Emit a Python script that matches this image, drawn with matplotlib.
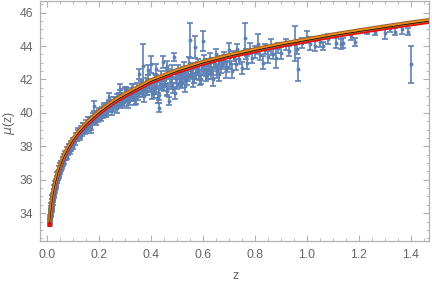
import numpy as np
import matplotlib
matplotlib.use("Agg")
import matplotlib.pyplot as plt

BLUE = "#5E81B5"
RED = "#FF0000"
ORANGE = "#F08C1A"
BROWN = "#9C6630"
FRAME = "#B0B0B0"
TEXT = "#666666"

# ── supernova data (z, mu, error) ───────────────────────────────────────────
z_low = [0.011, 0.012, 0.013, 0.014, 0.015, 0.015, 0.016, 0.017, 0.018, 0.019,
         0.020, 0.021, 0.022, 0.023, 0.024, 0.025, 0.026, 0.027, 0.028, 0.029,
         0.030, 0.031, 0.032, 0.034, 0.035, 0.037, 0.038, 0.040, 0.041, 0.043,
         0.045, 0.047, 0.049, 0.051, 0.053, 0.055, 0.057, 0.060, 0.062, 0.065,
         0.068, 0.071, 0.074, 0.078, 0.081, 0.085, 0.088, 0.092, 0.096, 0.100,
         0.013, 0.016, 0.018, 0.020, 0.022, 0.024, 0.026, 0.028, 0.030, 0.033,
         0.036, 0.039, 0.042, 0.046, 0.050, 0.054, 0.058, 0.063, 0.067, 0.072,
         0.076, 0.082, 0.087, 0.093, 0.098]
mu_low = [33.45, 33.70, 33.60, 34.05, 33.95, 34.30, 34.10, 34.45, 34.35, 34.70,
          34.55, 34.95, 34.80, 35.10, 34.95, 35.30, 35.15, 35.55, 35.35, 35.60,
          35.45, 35.80, 35.65, 35.95, 35.80, 36.15, 35.95, 36.35, 36.10, 36.45,
          36.30, 36.70, 36.55, 36.90, 36.70, 37.05, 36.85, 37.25, 37.05, 37.45,
          37.30, 37.65, 37.45, 37.85, 37.65, 38.05, 37.85, 38.20, 38.00, 38.40,
          33.50, 33.95, 34.20, 34.45, 34.65, 34.85, 35.00, 35.15, 35.30, 35.55,
          35.70, 35.90, 36.10, 36.25, 36.45, 36.65, 36.80, 36.95, 37.10, 37.30,
          37.40, 37.60, 37.70, 37.85, 38.00]
err_low = [0.20, 0.18, 0.17, 0.16, 0.15, 0.16, 0.15, 0.14, 0.14, 0.13,
           0.13, 0.13, 0.12, 0.12, 0.12, 0.12, 0.11, 0.11, 0.11, 0.11,
           0.11, 0.10, 0.10, 0.10, 0.10, 0.10, 0.10, 0.10, 0.10, 0.10,
           0.10, 0.10, 0.10, 0.10, 0.10, 0.10, 0.10, 0.10, 0.10, 0.10,
           0.10, 0.10, 0.10, 0.10, 0.10, 0.10, 0.10, 0.10, 0.11, 0.11,
           0.15, 0.14, 0.14, 0.13, 0.13, 0.13, 0.12, 0.12, 0.12, 0.12,
           0.12, 0.12, 0.12, 0.12, 0.13, 0.13, 0.13, 0.13, 0.14, 0.14,
           0.14, 0.14, 0.15, 0.15, 0.15]

z_mid = [0.105, 0.110, 0.115, 0.120, 0.125, 0.130, 0.135, 0.140, 0.145, 0.150,
         0.155, 0.160, 0.165, 0.170, 0.175, 0.180, 0.185, 0.190, 0.195, 0.200,
         0.205, 0.210, 0.215, 0.220, 0.225, 0.230, 0.235, 0.240, 0.245, 0.250,
         0.255, 0.260, 0.265, 0.270, 0.275, 0.280, 0.285, 0.290, 0.295, 0.300,
         0.240, 0.280,
         0.108, 0.118, 0.128, 0.138, 0.148, 0.158, 0.168, 0.178, 0.188, 0.198,
         0.208, 0.218, 0.228, 0.238, 0.248, 0.258, 0.268, 0.278, 0.288, 0.298]
mu_mid = [38.35, 38.60, 38.45, 38.80, 38.60, 39.00, 38.80, 39.20, 38.95, 39.35,
          39.10, 39.50, 39.30, 39.10, 39.60, 40.42, 39.55, 39.85, 39.65, 40.00,
          39.80, 40.15, 39.90, 40.25, 40.00, 40.40, 40.10, 40.55, 40.25, 40.60,
          40.35, 40.75, 40.45, 40.90, 40.55, 41.10, 40.70, 40.95, 40.65, 41.20,
          40.95, 41.45,
          38.30, 38.85, 38.70, 39.15, 39.00, 39.55, 39.25, 39.80, 39.50, 40.10,
          39.75, 40.30, 40.00, 40.50, 40.20, 40.70, 40.30, 40.95, 40.60, 41.30]
err_mid = [0.15, 0.20, 0.15, 0.18, 0.20, 0.20, 0.20, 0.20, 0.22, 0.20,
           0.20, 0.25, 0.22, 0.30, 0.20, 0.28, 0.20, 0.20, 0.22, 0.20,
           0.25, 0.20, 0.22, 0.20, 0.25, 0.20, 0.22, 0.25, 0.20, 0.20,
           0.25, 0.20, 0.22, 0.25, 0.20, 0.25, 0.22, 0.20, 0.25, 0.20,
           0.25, 0.25,
           0.20, 0.22, 0.20, 0.25, 0.20, 0.22, 0.25, 0.20, 0.25, 0.22,
           0.25, 0.30, 0.25, 0.22, 0.30, 0.25, 0.28, 0.25, 0.30, 0.25]

z_far = [0.305, 0.310, 0.315, 0.320, 0.325, 0.330, 0.335, 0.340, 0.345, 0.350,
         0.355, 0.360, 0.365, 0.370, 0.375, 0.380, 0.385, 0.390, 0.395, 0.400,
         0.405, 0.410, 0.415, 0.420, 0.425, 0.430, 0.435, 0.440, 0.446, 0.450,
         0.455, 0.460, 0.465, 0.470, 0.475, 0.480, 0.485, 0.490, 0.495, 0.500,
         0.355, 0.390, 0.420, 0.460,
         0.302, 0.312, 0.322, 0.332, 0.342, 0.352, 0.362, 0.372, 0.382, 0.392,
         0.402, 0.412, 0.422, 0.432, 0.442, 0.452, 0.462, 0.472, 0.482, 0.492]
mu_far = [40.85, 41.25, 40.70, 41.10, 41.50, 40.95, 41.30, 40.80, 41.55, 41.05,
          41.40, 41.70, 41.20, 42.80, 41.50, 41.80, 41.30, 41.95, 41.45, 42.90,
          41.70, 41.20, 42.05, 41.55, 40.90, 40.30, 41.75, 42.20, 43.05, 41.60,
          42.00, 41.30, 42.35, 40.70, 41.85, 42.50, 41.50, 43.35, 42.10, 41.75,
          42.30, 42.55, 42.60, 42.80,
          41.30, 40.60, 41.00, 41.40, 40.90, 41.20, 41.60, 41.00, 41.35, 41.75,
          41.15, 41.50, 41.90, 41.10, 41.65, 42.00, 41.40, 42.10, 41.75, 41.20]
err_far = [0.20, 0.22, 0.25, 0.20, 0.25, 0.22, 0.20, 0.30, 0.25, 0.30,
           0.20, 0.25, 0.22, 1.30, 0.25, 0.30, 0.25, 0.30, 0.22, 0.50,
           0.25, 0.30, 0.25, 0.30, 0.30, 0.27, 0.25, 0.30, 0.35, 0.30,
           0.25, 0.30, 0.30, 0.25, 0.30, 0.35, 0.30, 0.25, 0.30, 0.30,
           0.30, 0.30, 0.35, 0.30,
           0.25, 0.30, 0.25, 0.30, 0.35, 0.25, 0.30, 0.35, 0.30, 0.25,
           0.30, 0.35, 0.30, 0.35, 0.30, 0.25, 0.35, 0.30, 0.30, 0.35]

z_deep = [0.505, 0.510, 0.515, 0.520, 0.525, 0.530, 0.535, 0.540, 0.545, 0.550,
          0.555, 0.560, 0.565, 0.570, 0.575, 0.580, 0.585, 0.590, 0.595, 0.600,
          0.605, 0.610, 0.615, 0.620, 0.625, 0.630, 0.640, 0.645, 0.650, 0.655,
          0.660, 0.670, 0.680, 0.690, 0.700, 0.705,
          0.710, 0.720, 0.725, 0.730, 0.740, 0.750, 0.760, 0.765, 0.770, 0.780,
          0.790, 0.800, 0.810, 0.820, 0.830, 0.840, 0.850, 0.860, 0.870, 0.880,
          0.890, 0.900, 0.920, 0.930, 0.955, 0.960, 0.965,
          0.502, 0.512, 0.522, 0.532, 0.542, 0.552, 0.562, 0.572, 0.582, 0.592,
          0.602, 0.612, 0.622, 0.632, 0.642, 0.652, 0.662, 0.672, 0.682, 0.692]
mu_deep = [42.55, 41.95, 42.30, 41.80, 42.75, 42.15, 42.50, 42.00, 43.00, 44.35,
           42.35, 42.70, 42.10, 43.95, 42.55, 42.90, 42.25, 41.95, 42.75, 44.30,
           43.15, 42.50, 42.90, 42.30, 43.30, 42.65, 42.05, 42.95, 43.50, 42.45,
           43.10, 42.80, 43.35, 42.60, 43.75, 43.00,
           42.50, 43.40, 42.90, 43.80, 43.20, 42.70, 44.50, 43.50, 43.00, 43.85,
           43.30, 43.65, 44.15, 43.45, 43.00, 43.80, 43.35, 43.95, 43.55, 43.30,
           43.90, 43.60, 44.10, 43.70, 44.15, 43.85, 42.60,
           42.30, 41.90, 42.45, 41.60, 42.20, 42.55, 41.85, 42.40, 42.70, 42.00,
           42.60, 42.20, 42.85, 42.40, 43.00, 42.60, 42.30, 42.90, 43.10, 42.75]
err_deep = [0.30, 0.30, 0.25, 0.30, 0.30, 0.30, 0.25, 0.35, 0.35, 1.05,
            0.30, 0.30, 0.30, 0.65, 0.30, 0.35, 0.30, 0.30, 0.30, 0.60,
            0.30, 0.30, 0.35, 0.30, 0.30, 0.35, 0.45, 0.30, 0.30, 0.35,
            0.30, 0.40, 0.30, 0.50, 0.45, 0.35,
            0.40, 0.30, 0.35, 0.35, 0.30, 0.35, 0.90, 0.30, 0.40, 0.35,
            0.30, 0.35, 0.60, 0.30, 0.40, 0.30, 0.35, 0.50, 0.30, 0.60,
            0.30, 0.35, 0.35, 0.30, 1.05, 0.30, 0.70,
            0.30, 0.35, 0.30, 0.35, 0.30, 0.35, 0.30, 0.40, 0.35, 0.30,
            0.35, 0.30, 0.40, 0.35, 0.30, 0.35, 0.40, 0.30, 0.35, 0.30]

z_high = [0.980, 1.000, 1.010, 1.030, 1.050, 1.060, 1.080, 1.110, 1.130, 1.140,
          1.170, 1.185, 1.230, 1.260, 1.300, 1.320, 1.340, 1.365, 1.390, 1.400]
mu_high = [44.20, 44.55, 44.15, 44.00, 44.25, 44.00, 44.40, 44.20, 44.15, 44.20,
           44.60, 44.25, 44.85, 44.85, 44.80, 45.05, 44.85, 45.00, 44.85, 42.90]
err_high = [0.30, 0.35, 0.40, 0.30, 0.30, 0.25, 0.30, 0.30, 0.30, 0.30,
            0.25, 0.25, 0.15, 0.20, 0.38, 0.20, 0.20, 0.25, 0.20, 1.10]

# ── fitted model curves ────────────────────────────────────────────────────
z_fit = [0.010, 0.012, 0.015, 0.018, 0.020, 0.025, 0.030, 0.035, 0.040, 0.050,
         0.060, 0.070, 0.085, 0.100, 0.120, 0.150, 0.200, 0.250, 0.300, 0.400,
         0.500, 0.600, 0.700, 0.800, 0.900, 1.000, 1.100, 1.200, 1.300, 1.400,
         1.470]
mu_red = [33.18, 33.58, 34.07, 34.47, 34.70, 35.20, 35.60, 35.93, 36.24, 36.74,
          37.15, 37.50, 37.95, 38.33, 38.75, 39.27, 39.98, 40.55, 41.02, 41.85,
          42.45, 42.95, 43.35, 43.70, 44.02, 44.30, 44.58, 44.83, 45.07, 45.30,
          45.45]
mu_orange = [33.45, 33.72, 34.18, 34.58, 34.80, 35.30, 35.70, 36.03, 36.34, 36.84,
             37.25, 37.60, 38.05, 38.43, 38.85, 39.37, 40.08, 40.65, 41.12, 41.95,
             42.55, 43.05, 43.45, 43.80, 44.12, 44.40, 44.68, 44.93, 45.17, 45.40,
             45.55]

z_data = z_low + z_mid + z_far + z_deep + z_high
mu_data = mu_low + mu_mid + mu_far + mu_deep + mu_high
err_data = err_low + err_mid + err_far + err_deep + err_high

plt.rcParams["font.family"] = ["Liberation Sans", "DejaVu Sans"]

fig = plt.figure(figsize=(4.32, 2.85), dpi=100)
ax = fig.add_axes([0.0926, 0.154, 0.9004, 0.844])

ax.errorbar(z_data, mu_data, yerr=err_data, fmt="o", color=BLUE, ms=1.8,
            elinewidth=1.2, capsize=2.0, capthick=1.2, zorder=2)

ax.plot(z_fit, mu_red, color=RED, lw=3.0, solid_capstyle="butt", zorder=3)
ax.plot(z_fit, mu_orange, color=BROWN, lw=3.2, solid_capstyle="butt", zorder=4)
ax.plot(z_fit, mu_orange, color=ORANGE, lw=1.6, solid_capstyle="butt", zorder=5)
ax.plot(z_fit, np.array(mu_orange) - 0.06, color="black", lw=0.5, zorder=6)

ax.set_xlim(-0.027, 1.469)
ax.set_ylim(32.33, 46.72)
ax.set_xticks(np.arange(0, 1.41, 0.2))
ax.set_xticks(np.arange(0, 1.46, 0.05), minor=True)
ax.set_yticks(np.arange(34, 46.1, 2))
ax.set_yticks(np.arange(32.5, 46.6, 0.5), minor=True)
ax.xaxis.set_major_formatter(matplotlib.ticker.FormatStrFormatter("%.1f"))

for spine in ax.spines.values():
    spine.set_color(FRAME)
    spine.set_linewidth(0.9)
ax.tick_params(which="both", direction="in", top=True, right=True,
               colors=FRAME, labelcolor=TEXT, labelsize=8.7)
ax.tick_params(which="major", length=4, width=0.8)
ax.tick_params(which="minor", length=2, width=0.6)
ax.tick_params(axis="x", pad=6)
ax.tick_params(axis="y", pad=5)

fig.text(0.545, 0.03, "z", color=TEXT, fontsize=9, ha="center", va="center")
fig.text(0.02, 0.57, r"$\mu$(z)", color=TEXT, fontsize=9, ha="center", va="center",
         rotation=90)

fig.savefig("out.png", dpi=100)
